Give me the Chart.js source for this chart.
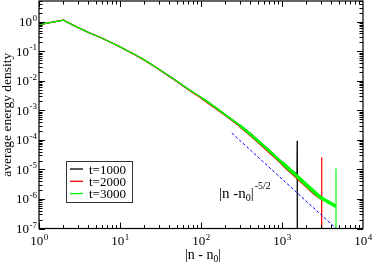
<!DOCTYPE html>
<html>
<head>
<meta charset="utf-8">
<script src="https://cdn.jsdelivr.net/npm/chart.js@4/dist/chart.umd.min.js"></script>
<style>
  html, body { margin: 0; padding: 0; background: #fff; }
  canvas { display: block; }
</style>
</head>
<body>
<canvas id="c" width="374" height="264"></canvas>
<script>
// --- data ---
const seriesLabels = ["t=1000", "t=2000", "t=3000"];
const seriesColors = ["#000000", "#ff0000", "#00ff00"];

const n1000 = [1, 2, 3, 4, 5, 6, 8, 10, 15, 20, 30, 40, 50, 70, 100, 150, 200, 300, 400, 500, 700, 1000, 1300, 1530, 1540, 1546];
const e1000 = [0.79, 1.12, 0.64, 0.44, 0.34, 0.275, 0.19, 0.14, 0.079, 0.051, 0.025, 0.0146, 0.0097, 0.0051, 0.0027, 0.00124, 7.0e-4, 3.05e-4, 1.6e-4, 9.3e-5, 4.1e-5, 1.65e-5, 8.6e-6, 6.2e-6, 9.3e-5, 1e-10];

const n2000 = [1, 2, 3, 4, 5, 6, 8, 10, 15, 20, 30, 40, 50, 70, 100, 150, 200, 300, 400, 500, 700, 1000, 1500, 2000, 2500, 3080, 3090, 3095];
const e2000 = [0.79, 1.12, 0.64, 0.44, 0.34, 0.275, 0.19, 0.14, 0.078, 0.05, 0.0246, 0.0145, 0.0096, 0.005, 0.0026, 0.0012, 6.8e-4, 2.95e-4, 1.55e-4, 9.0e-5, 3.9e-5, 1.6e-5, 5.8e-6, 2.8e-6, 1.6e-6, 1.05e-6, 2.6e-5, 1e-10];

const n3000 = [1, 2, 3, 4, 5, 6, 8, 10, 15, 20, 30, 40, 50, 70, 100, 150, 200, 300, 400, 500, 700, 1000, 1500, 2000, 2500, 3000, 3500, 4000, 4630, 4640, 4645];
const e3000 = [0.79, 1.12, 0.64, 0.44, 0.34, 0.275, 0.19, 0.14, 0.079, 0.051, 0.025, 0.0148, 0.0098, 0.0052, 0.00275, 0.00126, 7.1e-4, 3.1e-4, 1.62e-4, 9.5e-5, 4.2e-5, 1.7e-5, 6.2e-6, 3.0e-6, 1.74e-6, 1.12e-6, 8.7e-7, 7.1e-7, 5.6e-7, 1.07e-5, 1e-10];

// guide |n-n0|^(-5/2)
const nGuide = [240, 4650];
const eGuide = [1.7e-4, 1.0e-7];

const xTicks = [1, 10, 100, 1000, 10000];
const yTicks = [1e-7, 1e-6, 1e-5, 1e-4, 1e-3, 1e-2, 1e-1, 1];
const xMin = 1, xMax = 10000, yMin = 1e-7, yMax = 5;

const FONT = '"Liberation Serif", "DejaVu Serif", serif';

function pts(xs, ys) { return xs.map((x, i) => ({ x: x, y: ys[i] })); }

// noisy band gets wider toward the tail
function bandWidth(c, len) {
  if (c.p1DataIndex >= len - 2) return 1.2;
  const x = c.p0.parsed.x;
  if (x < 100) return 1.3;
  if (x < 300) return 1.8;
  if (x < 800) return 2.6;
  return 3.5;
}

function makeSet(i, xs, ys, order) {
  return {
    label: seriesLabels[i], data: pts(xs, ys), borderColor: seriesColors[i],
    borderWidth: 1.3, pointRadius: 0, tension: 0, clip: 0, order: order,
    segment: { borderWidth: c => bandWidth(c, xs.length) }
  };
}

function drawPow(ctx, exp, x, base, align) {
  const s = String(exp);
  ctx.font = "13px " + FONT;
  const w1 = ctx.measureText("10").width;
  ctx.font = "9px " + FONT;
  const w2 = ctx.measureText(s).width;
  let left = align === "center" ? x - (w1 + w2) / 2 : x - w1 - w2;
  ctx.textAlign = "left";
  ctx.font = "13px " + FONT;
  ctx.fillText("10", left, base);
  ctx.font = "9px " + FONT;
  ctx.fillText(s, left + w1 + 0.5, base - 5.5);
}

const frame = {
  id: "frame",
  afterDatasetsDraw(chart) {
    const { ctx, chartArea: a, scales: { x, y } } = chart;
    ctx.save();
    ctx.strokeStyle = "#000";
    ctx.fillStyle = "#000";
    ctx.lineWidth = 1.2;
    ctx.strokeRect(a.left, a.top, a.right - a.left, a.bottom - a.top);

    // inward ticks, majors at decades, minors 2..9
    ctx.lineWidth = 1;
    ctx.beginPath();
    for (let d = 0; d < 4; d++) {
      for (let m = 1; m <= 9; m++) {
        const v = m * Math.pow(10, d);
        const px = Math.round(x.getPixelForValue(v)) + 0.5;
        const len = m === 1 ? 6 : 3.5;
        ctx.moveTo(px, a.bottom); ctx.lineTo(px, a.bottom - len);
        ctx.moveTo(px, a.top); ctx.lineTo(px, a.top + len);
      }
    }
    for (let d = -7; d <= 0; d++) {
      for (let m = 1; m <= 9; m++) {
        const v = m * Math.pow(10, d);
        if (v > yMax) break;
        const py = Math.round(y.getPixelForValue(v)) + 0.5;
        const len = m === 1 ? 6 : 3.5;
        ctx.moveTo(a.left, py); ctx.lineTo(a.left + len, py);
        ctx.moveTo(a.right, py); ctx.lineTo(a.right - len, py);
      }
    }
    ctx.stroke();

    // tick labels
    xTicks.forEach(v => drawPow(ctx, Math.round(Math.log10(v)), x.getPixelForValue(v), 245, "center"));
    yTicks.forEach(v => {
      const py = y.getPixelForValue(v);
      drawPow(ctx, Math.round(Math.log10(v)), 36.5, py + 4.5, "right");
    });

    // axis titles
    ctx.textAlign = "left";
    const t1 = "|n - n", t2 = "0", t3 = "|";
    ctx.font = "14px " + FONT; const w1 = ctx.measureText(t1).width;
    ctx.font = "9.5px " + FONT; const w2 = ctx.measureText(t2).width;
    ctx.font = "14px " + FONT; const w3 = ctx.measureText(t3).width;
    let sx = (a.left + a.right) / 2 + 2 - (w1 + w2 + w3) / 2;
    ctx.fillText(t1, sx, 258.5);
    ctx.font = "9.5px " + FONT; ctx.fillText(t2, sx + w1, 261.5);
    ctx.font = "14px " + FONT; ctx.fillText(t3, sx + w1 + w2, 258.5);

    ctx.save();
    ctx.font = "13.5px " + FONT;
    ctx.translate(10.5, (a.top + a.bottom) / 2);
    ctx.rotate(-Math.PI / 2);
    ctx.textAlign = "center";
    ctx.fillText("average energy density", 0, 0);
    ctx.restore();

    // guide label
    let gx = 219;
    ctx.font = "15px " + FONT; ctx.fillText("|n -n", gx, 197.5);
    gx += ctx.measureText("|n -n").width;
    ctx.font = "10px " + FONT; ctx.fillText("0", gx, 201);
    gx += ctx.measureText("0").width;
    ctx.font = "15px " + FONT; ctx.fillText("|", gx, 197.5);
    gx += ctx.measureText("|").width + 1;
    ctx.font = "10px " + FONT; ctx.fillText("-5/2", gx, 189);

    // legend
    ctx.lineWidth = 1;
    ctx.strokeStyle = "#333";
    ctx.strokeRect(66.5, 161.5, 66, 41);
    seriesLabels.forEach((lab, i) => {
      const ly = 169 + i * 12.3;
      ctx.strokeStyle = seriesColors[i];
      ctx.lineWidth = 1.3;
      ctx.beginPath(); ctx.moveTo(70, ly); ctx.lineTo(83, ly); ctx.stroke();
      ctx.font = "13px " + FONT;
      ctx.fillStyle = "#000";
      ctx.fillText(lab, 89, ly + 4.5);
    });
    ctx.restore();
  }
};

new Chart(document.getElementById("c"), {
  type: "line",
  data: {
    datasets: [
      makeSet(0, n1000, e1000, 3),
      makeSet(1, n2000, e2000, 2),
      makeSet(2, n3000, e3000, 1),
      { label: "guide", data: pts(nGuide, eGuide), borderColor: "#0000ff", borderWidth: 1,
        borderDash: [3, 2], pointRadius: 0, clip: 0, order: 0 }
    ]
  },
  options: {
    responsive: false,
    animation: false,
    layout: { padding: { left: 39, right: 11, top: 1, bottom: 35.5 } },
    scales: {
      x: { type: "logarithmic", min: xMin, max: xMax, display: false },
      y: { type: "logarithmic", min: yMin, max: yMax, display: false }
    },
    plugins: { legend: { display: false }, tooltip: { enabled: false } }
  },
  plugins: [frame]
});
</script>
</body>
</html>
